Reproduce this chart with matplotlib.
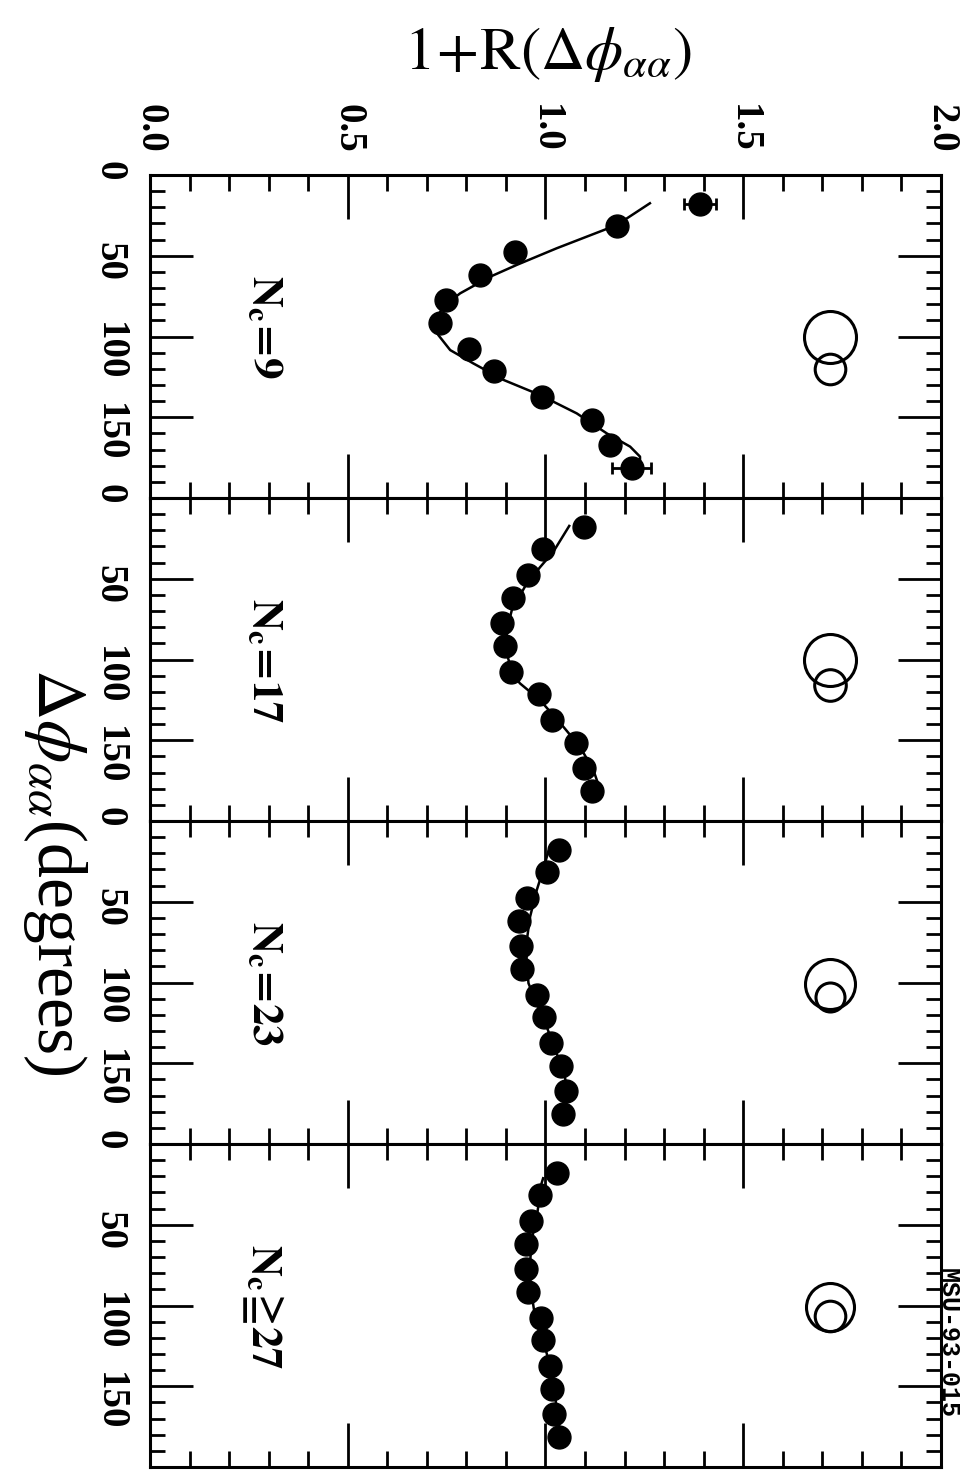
import matplotlib
matplotlib.use('Agg')
import matplotlib.pyplot as plt
from matplotlib.ticker import MultipleLocator, FormatStrFormatter

plt.rcParams['mathtext.fontset'] = 'stix'
plt.rcParams['font.family'] = ['Liberation Serif', 'DejaVu Serif']

# ---------------- data ----------------
panel_labels = [r'$\mathbf{N_c\!=\!9}$', r'$\mathbf{N_c\!=\!17}$',
                r'$\mathbf{N_c\!=\!23}$', r'$\mathbf{N_c\!\geqq\!27}$']

phi = [18.0, 31.7, 47.8, 61.8, 77.6, 91.6, 107.5, 121.5, 137.7, 151.7, 167.3, 181.7]

r_nc9 = [1.391, 1.180, 0.923, 0.834, 0.748, 0.733, 0.807, 0.871, 0.992, 1.117, 1.163, 1.218]
r_nc17 = [1.097, 0.993, 0.957, 0.919, 0.891, 0.898, 0.912, 0.983, 1.016, 1.077, 1.097, 1.117]
r_nc23 = [1.035, 1.003, 0.952, 0.933, 0.938, 0.941, 0.979, 0.996, 1.014, 1.038, 1.051, 1.043]
r_nc27 = [1.028, 0.986, 0.963, 0.950, 0.951, 0.955, 0.988, 0.993, 1.011, 1.016, 1.022, 1.034]

err_nc9 = [0.04, 0, 0, 0, 0, 0, 0, 0, 0, 0, 0, 0.05]
err_nc17 = [0] * 12
err_nc23 = [0] * 12
err_nc27 = [0] * 12

fit9_phi = [17.5, 31.0, 45.4, 55.7, 63.0, 73.3, 81.5, 89.8, 99.1, 108.4, 116.6,
            126.9, 136.2, 147.6, 160.0, 168.2, 174.4, 176.5]
fit9_val = [1.264, 1.180, 1.028, 0.927, 0.860, 0.784, 0.742, 0.721, 0.729, 0.759, 0.817,
            0.894, 0.986, 1.079, 1.155, 1.214, 1.239, 1.239]
fit17_phi = [17.3, 33.2, 42.9, 54.9, 69.3, 81.7, 96.2, 107.5, 114.7, 125.1, 141.6,
             154.0, 168.4, 177.7]
fit17_val = [1.060, 1.020, 0.986, 0.948, 0.915, 0.902, 0.902, 0.915, 0.935, 0.986, 1.045,
             1.087, 1.121, 1.134]
fit23_phi = [19.0, 30.3, 42.7, 59.3, 71.6, 86.1, 100.5, 112.9, 127.4, 143.8, 158.3, 172.8]
fit23_val = [1.007, 0.994, 0.978, 0.961, 0.954, 0.952, 0.957, 0.978, 1.003, 1.028, 1.049, 1.058]
fit27_phi = [21.2, 24.4, 45.0, 59.4, 73.9, 88.3, 102.8, 115.2, 129.6, 146.1, 162.7, 179.0]
fit27_val = [0.994, 0.990, 0.978, 0.965, 0.961, 0.962, 0.971, 0.986, 1.003, 1.018, 1.028, 1.037]

circle_r = [1.72, 1.72, 1.72, 1.72]
big_phi = [100.0, 100.4, 100.9, 100.7]
small_phi = [120.3, 115.8, 109.1, 106.5]
big_size = [26, 26, 25, 24]      # radius, px
small_size = [15.3, 15.8, 14.5, 15.3]

phi_ticks = [0, 50, 100, 150, 200]
phi_ticklabels = ['0', '50', '100', '150', '']

values = [r_nc9, r_nc17, r_nc23, r_nc27]
errors = [err_nc9, err_nc17, err_nc23, err_nc27]
fits = [(fit9_phi, fit9_val), (fit17_phi, fit17_val),
        (fit23_phi, fit23_val), (fit27_phi, fit27_val)]

# ---------------- figure ----------------
W, H = 962, 1475
DPI = 100
fig = plt.figure(figsize=(W / DPI, H / DPI), dpi=DPI)

left_px, right_px = 150, 941
top_px = 175
panel_h = 323
px2pt = 72.0 / DPI

for i in range(4):
    top = top_px + i * panel_h
    ax = fig.add_axes([left_px / W, 1 - (top + panel_h) / H,
                       (right_px - left_px) / W, panel_h / H])
    ax.set_xlim(0, 2)
    ax.set_ylim(200, 0)

    for s in ax.spines.values():
        s.set_linewidth(2.2)

    ax.xaxis.set_major_locator(MultipleLocator(0.5))
    ax.xaxis.set_minor_locator(MultipleLocator(0.1))
    ax.xaxis.set_major_formatter(FormatStrFormatter('%.1f'))
    ax.tick_params(axis='x', which='both', direction='in', top=True, bottom=True,
                   labelbottom=False, labeltop=(i == 0), width=2)
    ax.tick_params(axis='x', which='major', length=32, labelsize=28,
                   labelrotation=-90, pad=16)
    ax.tick_params(axis='x', which='minor', length=11.5)

    ax.set_yticks(phi_ticks)
    ax.set_yticklabels(phi_ticklabels)
    ax.yaxis.set_minor_locator(MultipleLocator(10))
    ax.tick_params(axis='y', which='both', direction='in', left=True, right=True,
                   width=2)
    ax.tick_params(axis='y', which='major', length=31, labelsize=28,
                   labelrotation=-90, pad=16)
    ax.tick_params(axis='y', which='minor', length=11)
    for lab in ax.get_xticklabels() + ax.get_yticklabels():
        lab.set_fontweight('bold')

    fp, fv = fits[i]
    ax.plot(fv, fp, color='k', lw=1.8, zorder=2)

    ax.errorbar(values[i], phi, xerr=errors[i], fmt='o', color='k', ms=16.5,
                elinewidth=2, capsize=4, capthick=2, zorder=3, clip_on=False)

    ax.plot(circle_r[i], big_phi[i], 'o', mfc='none', mec='k',
            ms=2 * big_size[i] * px2pt, mew=2.2)
    ax.plot(circle_r[i], small_phi[i], 'o', mfc='none', mec='k',
            ms=2 * small_size[i] * px2pt, mew=2.2)

    ax.text(0.286, 62, panel_labels[i], rotation=-90, ha='center', va='top',
            fontsize=31)

fig.text(548 / W, 1 - 55 / H, r'$1\!+\!\mathrm{R}(\Delta\phi_{\alpha\alpha})$',
         ha='center', va='center', fontsize=44)
fig.text(55 / W, 1 - 872 / H, r'$\Delta\phi_{\alpha\alpha}$(degrees)',
         rotation=-90, ha='center', va='center', fontsize=50)
fig.text(960 / W, 1 - 1268 / H, 'MSU-93-015', rotation=-90, ha='right', va='top',
         fontsize=18, family='Liberation Mono', weight='bold')

fig.savefig('out.png', dpi=DPI)
